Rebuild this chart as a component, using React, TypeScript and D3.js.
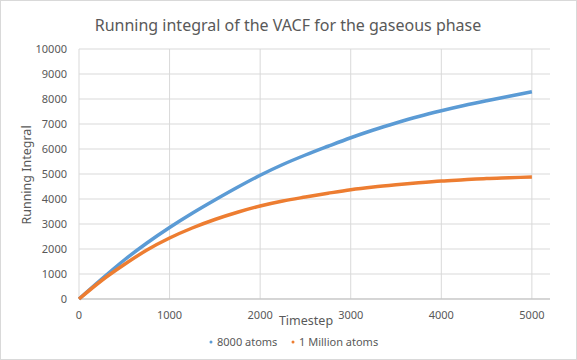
import React from 'react';
import * as d3 from 'd3';

const timesteps = [0, 250, 500, 750, 1000, 1250, 1500, 1750, 2000, 2250, 2500, 2750, 3000, 3250, 3500, 3750, 4000, 4250, 4500, 4750, 5000];
const atoms8000 = [0, 800, 1560, 2240, 2860, 3430, 3960, 4470, 4950, 5380, 5760, 6110, 6450, 6760, 7040, 7300, 7530, 7740, 7930, 8110, 8290];
const atoms1M = [0, 740, 1380, 1960, 2440, 2840, 3180, 3470, 3720, 3920, 4080, 4230, 4370, 4480, 4570, 4650, 4720, 4770, 4820, 4850, 4880];
const xTicks = [0, 1000, 2000, 3000, 4000, 5000];
const yTicks = [0, 1000, 2000, 3000, 4000, 5000, 6000, 7000, 8000, 9000, 10000];
const seriesNames = ['8000 atoms', '1 Million atoms'];
const colors = ['#5B9BD5', '#ED7D31'];

const width = 577;
const height = 360;
const font = "'Noto Sans', sans-serif";
const textColor = '#595959';

const App: React.FC = () => {
  const x = d3.scaleLinear().domain([0, 5200]).range([79, 550]);
  const y = d3.scaleLinear().domain([0, 10000]).range([299, 49]);

  const line = d3.line<number>()
    .x((_, i) => x(timesteps[i]))
    .y(d => y(d))
    .curve(d3.curveMonotoneX);

  const series = [atoms8000, atoms1M];

  return (
    <svg width={width} height={height} style={{ position: 'fixed', left: 0, top: 0, background: '#fff' }} fontFamily={font}>
      <rect x={0.5} y={0.5} width={width - 1} height={height - 1} fill="#fff" stroke="#D9D9D9" />
      <text x={288} y={31} textAnchor="middle" fontSize={16} fill={textColor}>
        Running integral of the VACF for the gaseous phase
      </text>

      {yTicks.map(t => (
        <line key={'gy' + t} x1={x(0)} x2={x.range()[1]} y1={y(t)} y2={y(t)} stroke="#D9D9D9" />
      ))}
      {xTicks.map(t => (
        <line key={'gx' + t} x1={x(t)} x2={x(t)} y1={y(10000)} y2={y(0)} stroke="#D9D9D9" />
      ))}
      <line x1={x(0)} x2={x.range()[1]} y1={y(0)} y2={y(0)} stroke="#BFBFBF" />

      {yTicks.map(t => (
        <text key={'ty' + t} x={67} y={y(t)} dy="0.35em" textAnchor="end" fontSize={11} fill={textColor}>{t}</text>
      ))}
      {xTicks.map(t => (
        <text key={'tx' + t} x={x(t)} y={315} dy="0.35em" textAnchor="middle" fontSize={11} fill={textColor}>{t}</text>
      ))}

      <text x={306} y={321} dy="0.35em" textAnchor="middle" fontSize={12.5} fill={textColor}>Timestep</text>
      <text transform={`translate(27,175) rotate(-90)`} dy="0.35em" textAnchor="middle" fontSize={12.5} fill={textColor}>Running Integral</text>

      {series.map((s, i) => (
        <path key={'s' + i} d={line(s) ?? ''} fill="none" stroke={colors[i]} strokeWidth={3.5} />
      ))}

      {seriesNames.map((n, i) => {
        const lx = i === 0 ? 211 : 293;
        return (
          <g key={'l' + i}>
            <circle cx={lx} cy={342} r={1.5} fill={colors[i]} />
            <text x={lx + 6} y={342} dy="0.35em" fontSize={11} fill={textColor}>{n}</text>
          </g>
        );
      })}
    </svg>
  );
};

export default App;
